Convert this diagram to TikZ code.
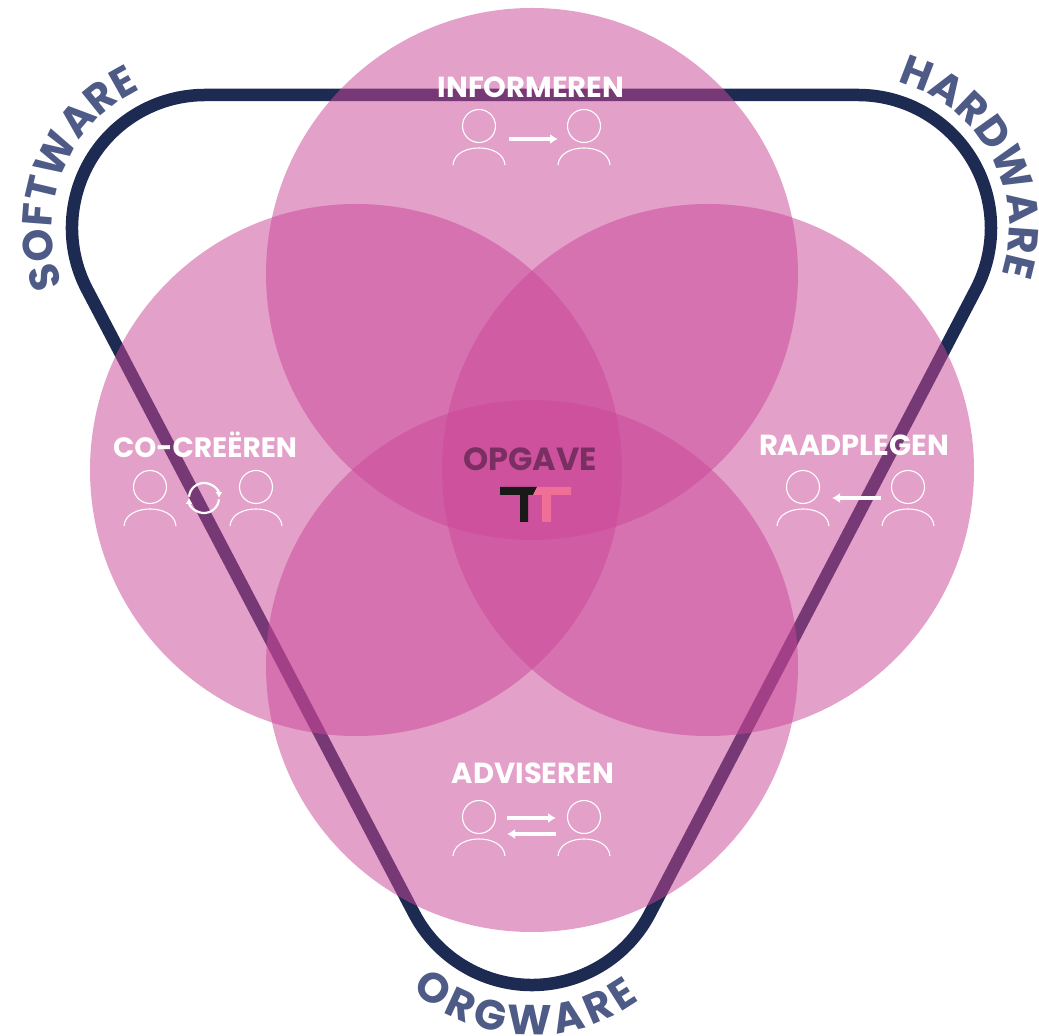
\documentclass[tikz,border=0pt]{standalone}
\usepackage{fontspec}
\setmainfont{Poppins}
\usepackage{xcolor}
\usetikzlibrary{arrows.meta,decorations.text}

\definecolor{roze}{RGB}{202,72,152}
\definecolor{navy}{RGB}{29,42,82}
\definecolor{leisteen}{RGB}{79,91,135}
\definecolor{pruim}{RGB}{122,47,98}
\definecolor{zalm}{RGB}{239,111,150}

\tikzset{
    cirkel/.style={fill=roze, fill opacity=0.52, draw=none},
    titel/.style={text=white, font=\bfseries\fontsize{29}{29}\selectfont, inner sep=0pt},
    hoofd/.style={circle, draw=white, line width=1.1pt, minimum size=33pt, inner sep=0pt},
    pijl/.style={draw=white, line width=3.2pt, -{Latex[length=8pt,width=10pt]}},
    ronde/.style={draw=white, line width=2.2pt, -{Latex[length=6pt,width=7pt]}},
    gebogen/.style={decorate, decoration={text along path, text align=center,
        text color=leisteen, text={|\bfseries\fontsize{42}{42}\selectfont|#1}}},
    romp/.pic={\draw[white, line width=1.1pt] (-26,-39) .. controls (-25,-27) and (-12,-22) .. (0,-22)
        .. controls (12,-22) and (25,-27) .. (26,-39);}
}

\begin{document}
\begin{tikzpicture}[x=1pt,y=1pt]
    \useasboundingbox (0,0) rectangle (1039,1036);

    % Frame
    \coordinate (hubL) at (205,808);
    \coordinate (hubR) at (858,808);
    \coordinate (hubB) at (532,184);
    \draw[navy, line width=12.5pt, line join=round]
        ([shift={(90:133)}]hubL) -- ([shift={(90:133)}]hubR)
        arc[start angle=90, end angle=-27.6, radius=133]
        -- ([shift={(-27.6:133)}]hubB)
        arc[start angle=-27.6, end angle=-152.4, radius=133]
        -- ([shift={(207.6:133)}]hubL)
        arc[start angle=207.6, end angle=90, radius=133] -- cycle;

    % Frame labels
    \path[gebogen=SOFTWARE] ([shift={(223:153)}]hubL) arc[start angle=223, end angle=94, radius=153];
    \path[gebogen=HARDWARE] ([shift={(93:151)}]hubR) arc[start angle=93, end angle=-36, radius=151];
    \path[gebogen=ORGWARE, decoration={text align={fit to path}}] ([shift={(229:183)}]hubB) arc[start angle=229, end angle=306, radius=183];

    % Circles
    \fill[cirkel] (532,762) circle (266);
    \fill[cirkel] (356,566) circle (266);
    \fill[cirkel] (708,566) circle (266);
    \fill[cirkel] (532,370) circle (266);

    % Labels
    \node[titel] (informeren) at (531,949) {INFORMEREN};
    \node[titel, font=\bfseries\fontsize{28}{28}\selectfont] (cocreeren) at (205,591) {CO-CREËREN};
    \node[titel] (raadplegen) at (854,591) {RAADPLEGEN};
    \node[titel] (adviseren) at (533,263) {ADVISEREN};
    \node[titel, text=pruim, font=\bfseries\fontsize{32}{32}\selectfont] (opgave) at (530,577) {OPGAVE};

    % Persons
    \foreach \naam/\x/\y in {infoL/479/910, infoR/584/910, cocrL/150/549, cocrR/256/549,
        raadL/803/549, raadR/908/549, adviL/479/219, adviR/584/219} {
        \node[hoofd] (\naam) at (\x,\y) {};
        \pic at (\naam) {romp};
    }

    % Arrows
    \coordinate (infoA) at (509,897);
    \coordinate (infoB) at (558,897);
    \draw[pijl] (infoA) -- (infoB);
    \coordinate (raadA) at (881,538);
    \coordinate (raadB) at (832,538);
    \draw[pijl] (raadA) -- (raadB);
    \coordinate (adviA) at (507,218);
    \coordinate (adviB) at (556,218);
    \draw[pijl] (adviA) -- (adviB);
    \coordinate (adviC) at (556,202);
    \coordinate (adviD) at (507,202);
    \draw[pijl] (adviC) -- (adviD);

    % Cycle
    \coordinate (cyclus) at (204,538);
    \draw[ronde] ([shift={(175:15)}]cyclus) arc[start angle=175, end angle=0, radius=15];
    \draw[ronde] ([shift={(-5:15)}]cyclus) arc[start angle=-5, end angle=-180, radius=15];

    % Logo
    \fill[black!90] (500,549) -- (537,549) -- (533,541) -- (528,541) -- (528,514) -- (520,514) -- (520,541) -- (500,541) -- cycle;
    \fill[zalm] (537,549) -- (571,549) -- (571,541) -- (551,541) -- (551,514) -- (542,514) -- (542,541) -- (533,541) -- cycle;
\end{tikzpicture}
\end{document}
